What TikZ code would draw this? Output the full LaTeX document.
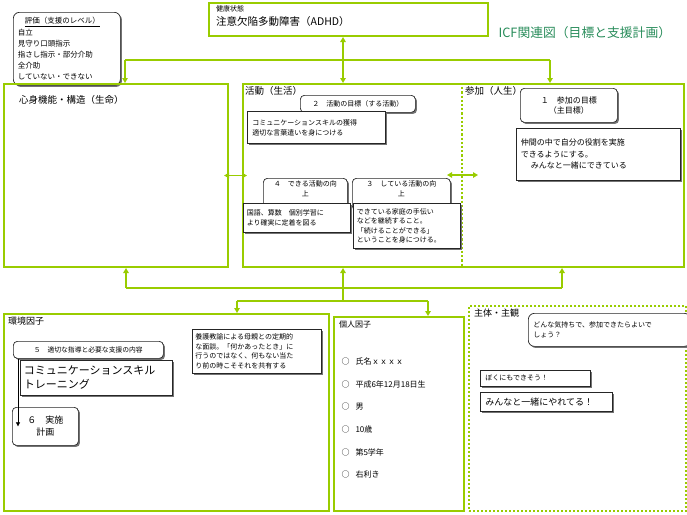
\documentclass[tikz,border=0pt]{standalone}
\usepackage{fontspec}
\setmainfont{Noto Sans CJK JP}
\usetikzlibrary{arrows.meta, positioning, shadows, calc}
\definecolor{IcfGreen}{RGB}{153,204,0}
\definecolor{TitleGreen}{RGB}{40,140,90}

\tikzset{
	greenbox/.style={draw=IcfGreen, line width=2pt, anchor=north west, inner sep=0pt},
	dotbox/.style={greenbox, dotted, line width=2.2pt},
	notebox/.style={draw=black!85, fill=white, line width=0.7pt, anchor=north west,
		align=left, inner sep=3pt,
		drop shadow={shadow xshift=1.6pt, shadow yshift=-1.6pt, fill=black!55, opacity=1}},
	tabbox/.style={notebox, rounded corners=4pt, align=center},
	label/.style={anchor=north west, inner sep=1pt},
	link/.style={draw=IcfGreen, line width=1.8pt},
	tip/.style={-{Triangle[length=5pt,width=5.5pt]}},
	both/.style={{Triangle[length=5pt,width=5.5pt]}-{Triangle[length=5pt,width=5.5pt]}},
	fsmall/.style={font=\fontsize{7}{10}\selectfont},
	fmid/.style={font=\fontsize{8}{11}\selectfont},
	fhead/.style={font=\fontsize{9.5}{12}\selectfont},
}

\begin{document}
\begin{tikzpicture}[x=1pt,y=-1pt]
\useasboundingbox (0,0) rectangle (687,514);

% top row
\node[tabbox, rounded corners=6pt, align=left, font=\fontsize{7.5}{11.2}\selectfont,
	minimum width=107pt, minimum height=73pt, text width=98pt] (legend) at (13,12)
	{\hspace*{7pt}\underline{評価（支援のレベル）}\\自立\\見守り口頭指示\\指さし指示・部分介助\\全介助\\していない・できない};
\node[greenbox, minimum width=279pt, minimum height=33pt] (health) at (208,2) {};
\node[label, fsmall] (healthtag) at (215,4) {健康状態};
\node[label, font=\fontsize{10.5}{12}\selectfont] (healthname) at (215,15) {注意欠陥多動障害（ADHD）};
\node[anchor=west, text=TitleGreen, font=\fontsize{12.8}{14}\selectfont] (title) at (495,33) {ICF関連図（目標と支援計画）};

% middle row
\node[greenbox, minimum width=224pt, minimum height=183pt] (body) at (3,83) {};
\node[label, fhead] (bodylabel) at (18,94) {心身機能・構造（生命）};
\node[greenbox, minimum width=441pt, minimum height=183pt] (act) at (242,83) {};
\coordinate (divtop) at (462,83);
\coordinate (divbot) at (462,266);
\coordinate (divmid) at (462,175);
\draw[draw=IcfGreen, line width=2.2pt, dotted] (divtop) -- (divbot);
\node[label, fhead] (actlabel) at (244,85) {活動（生活）};
\node[label, fhead] (partlabel) at (464,85) {参加（人生）};

\node[tabbox, fsmall, minimum width=115pt, minimum height=17pt, inner sep=1pt] (goal2) at (300,95) {２　活動の目標（する活動）};
\node[notebox, fsmall, minimum width=138pt, minimum height=32pt, text width=128pt] (goal2box) at (247,111)
	{コミュニケーションスキルの獲得\\適切な言葉遣いを身につける};
\node[tabbox, fsmall, minimum width=84pt, text width=78pt, inner ysep=2pt] (can4) at (263,178)
	{４　できる活動の向\\上\\[2pt]\mbox{}};
\node[notebox, fsmall, minimum width=107pt, minimum height=29pt, text width=100pt] (can4box) at (243,203)
	{国語、算数　個別学習に\\より確実に定着を図る};
\node[tabbox, fsmall, minimum width=98pt, text width=92pt, inner ysep=2pt] (do3) at (352,178)
	{３　している活動の向\\上\\[2pt]\mbox{}};
\node[notebox, minimum width=107pt, minimum height=45pt, text width=100pt, font=\fontsize{7}{9.5}\selectfont] (do3box) at (353,203)
	{できている家庭の手伝い\\などを継続すること。\\「続けることができる」\\ということを身につける。};
\node[tabbox, minimum width=97pt, minimum height=34pt, font=\fontsize{8}{10}\selectfont] (goal1) at (520,88)
	{１　参加の目標\\（主目標）};
\node[notebox, minimum width=164pt, minimum height=52pt, text width=155pt, font=\fontsize{8}{11.5}\selectfont] (goal1box) at (516,128)
	{仲間の中で自分の役割を実施\\できるようにする。\\\hspace*{10pt}みんなと一緒にできている};

% bottom row
\node[greenbox, minimum width=325pt, minimum height=197pt] (env) at (3,313) {};
\node[label, font=\fontsize{9}{11}\selectfont] (envlabel) at (7,316) {環境因子};
\node[tabbox, font=\fontsize{6.8}{8}\selectfont, minimum width=150pt, minimum height=17pt, inner sep=1pt] (support5) at (13,341)
	{５　適切な指導と必要な支援の内容};
\node[notebox, font=\fontsize{11}{14}\selectfont, minimum width=152pt, minimum height=35pt, text width=145pt] (support5box) at (20,360)
	{コミュニケーションスキル\\トレーニング};
\node[tabbox, font=\fontsize{9}{12}\selectfont, minimum width=66pt, minimum height=38pt] (plan6) at (12,407)
	{６　実施\\計画};
\draw[-{Triangle[length=4pt,width=4pt]}, line width=0.6pt] ([xshift=5pt]support5.south west) -- ([xshift=6pt]plan6.west);
\node[notebox, font=\fontsize{7}{9.5}\selectfont, minimum width=129pt, minimum height=44pt, text width=123pt, inner sep=2pt, drop shadow={opacity=0}] (nurse) at (192,329)
	{養護教諭による母親との定期的\\な面談。「何かあったとき」に\\行うのではなく、何もない当た\\り前の時こそそれを共有する};

\node[greenbox, minimum width=130pt, minimum height=194pt] (pers) at (333,316) {};
\node[label, fmid] (perslabel) at (338,320) {個人因子};
\foreach \txt [count=\i] in {氏名ｘｘｘｘ, 平成6年12月18日生, 男, 10歳, 第5学年, 右利き}{
	\node[anchor=west, fmid] (item\i) at (338,{339+22.6*\i}) {○\hspace{6pt}\txt};
}

\node[dotbox, minimum width=217pt, minimum height=205pt] (subj) at (468,305) {};
\node[label, font=\fontsize{9}{11}\selectfont] (subjlabel) at (473,308) {主体・主観};
\node[tabbox, fsmall, align=left, minimum width=162pt, minimum height=33pt, text width=152pt, rounded corners=6pt] (feel) at (528,313)
	{どんな気持ちで、参加できたらよいで\\しょう？};
\node[notebox, fsmall, minimum width=110pt, minimum height=16pt, text width=100pt, inner sep=2pt] (voice1) at (480,370) {ぼくにもできそう！};
\node[notebox, font=\fontsize{9}{11}\selectfont, minimum width=132pt, minimum height=19pt, text width=122pt, inner sep=2pt] (voice2) at (480,392) {みんなと一緒にやれてる！};

% connectors
\coordinate (hubtop) at (343,60);
\coordinate (busL) at (125,60);
\coordinate (busR) at (550,60);
\draw[link] (busL) -- (busR);
\draw[link, both] (hubtop |- health.south) -- (hubtop |- act.north);
\draw[link, tip] (busL) -- (busL |- body.north);
\draw[link, tip] (busR) -- (busR |- act.north);
\draw[link, both] ([xshift=-5pt]body.east) -- ([xshift=5pt]act.west);
\draw[link, both] ([xshift=-15pt]divmid) -- ([xshift=16pt]divmid);

\coordinate (hubbot) at (343,288);
\coordinate (lbus) at (126,288);
\coordinate (rbus) at (562,288);
\coordinate (envtop) at (237,301);
\coordinate (perstop) at (428,301);
\draw[link] (lbus) -- (rbus);
\draw[link, tip] (lbus) -- (lbus |- body.south);
\draw[link, tip] (rbus) -- (rbus |- act.south);
\draw[link, tip] (hubbot |- envtop) -- (hubbot |- act.south);
\draw[link] (envtop) -- (perstop);
\draw[link, tip] (envtop) -- (envtop |- env.north);
\draw[link, tip] (perstop) -- (perstop |- pers.north);
\end{tikzpicture}
\end{document}
